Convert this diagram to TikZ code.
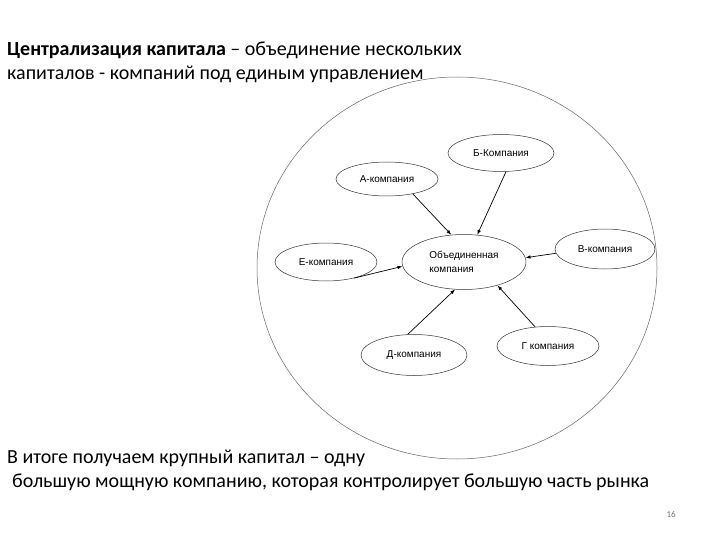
\documentclass[tikz,border=0pt]{standalone}
\usepackage{fontspec}
\setmainfont{Carlito}
\newfontfamily\arialf{Liberation Sans}
\usetikzlibrary{shapes.geometric,arrows.meta}
\begin{document}
\begin{tikzpicture}[x=1pt,y=-1pt,
  comp/.style={draw=black!80,line width=0.5pt,ellipse,inner sep=0pt,font=\arialf\fontsize{10}{14}\selectfont},
  link/.style={draw=black,line width=0.7pt,-{Latex[length=5pt,width=3.5pt]}},
  txt/.style={anchor=base west,inner sep=0pt,font=\fontsize{20}{24}\selectfont}]
\useasboundingbox (0,0) rectangle (720,540);
\fill[white] (0,0) rectangle (720,540);
\draw[black!60,line width=0.5pt] (457,268) ellipse [x radius=200, y radius=191];
\node[comp,minimum width=106pt,minimum height=37pt] (b) at (501,153) {Б-Компания};
\node[comp,minimum width=102pt,minimum height=34pt] (a) at (387,179) {А-компания};
\node[comp,minimum width=124pt,minimum height=55pt,align=left] (o) at (464,262) {Объединенная\\компания};
\node[comp,minimum width=102pt,minimum height=38pt] (e) at (326,262) {Е-компания};
\node[comp,minimum width=100pt,minimum height=40pt] (v) at (605,249) {В-компания};
\node[comp,minimum width=106pt,minimum height=41pt] (d) at (414,355) {Д-компания};
\node[comp,minimum width=102pt,minimum height=39pt] (g) at (548,346) {Г компания};
\draw[link] (a.-30) -- (o.115);
\draw[link] (b.-75) -- (o.64);
\draw[link] (v.185) -- (o.4);
\draw[link] (e.-30) -- (o.184);
\draw[link] (d.107) -- (o.-108);
\draw[link] (g.124) -- (o.-35);
\node[txt] (t1) at (7,56) {\textbf{Централизация капитала} – объединение нескольких};
\node[txt] (t2) at (7,80) {капиталов - компаний под единым управлением};
\node[txt] (t3) at (7,463) {В итоге получаем крупный капитал – одну};
\node[txt] (t4) at (12,487) {большую мощную компанию, которая контролирует большую часть рынка};
\node[anchor=base east,inner sep=0pt,text=black!55,font=\fontsize{9}{10}\selectfont] (pn) at (676,517) {16};
\end{tikzpicture}
\end{document}
